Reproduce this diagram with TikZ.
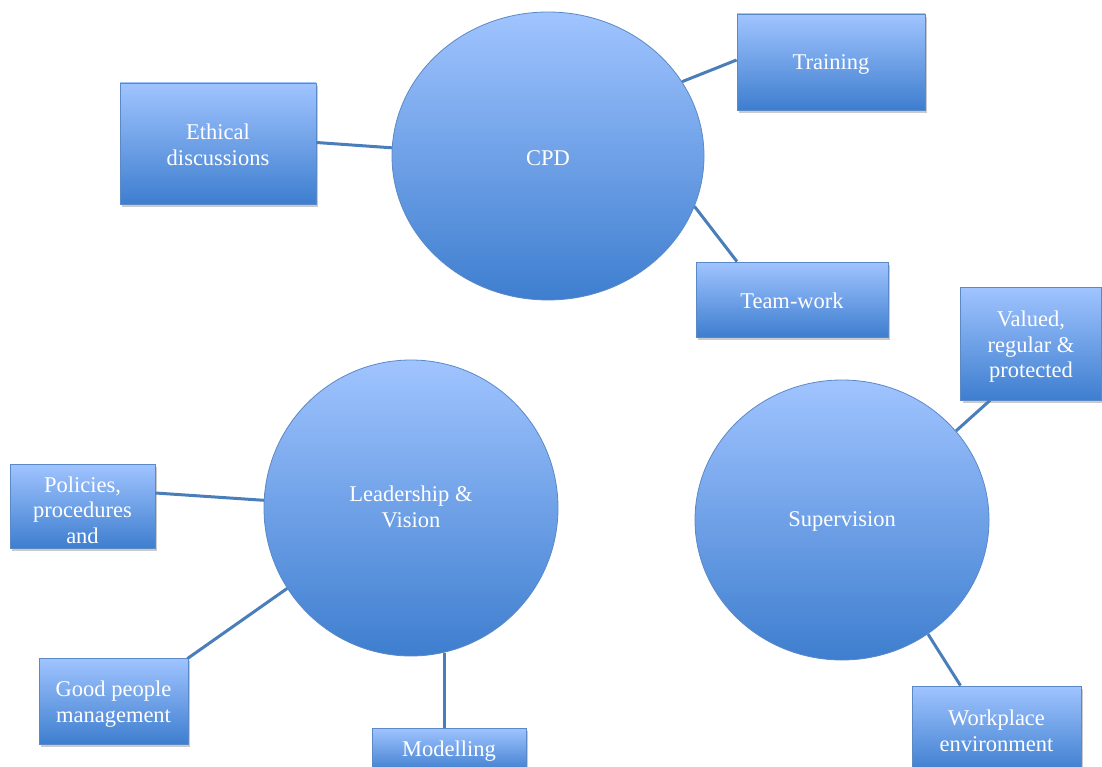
\documentclass[tikz,border=0pt]{standalone}
\usepackage{fontspec}
\setmainfont{Liberation Serif}
\usetikzlibrary{shadows,calc,shapes.geometric}
\definecolor{topblue}{HTML}{A0C4FF}
\definecolor{botblue}{HTML}{3E7ECF}
\definecolor{edgeblue}{HTML}{5B89C6}
\definecolor{linkblue}{HTML}{4A7EBB}
\tikzset{
  box/.style={rectangle, draw=edgeblue, line width=0.8pt, top color=topblue, bottom color=botblue,
    inner sep=0pt,
    drop shadow={shadow xshift=2pt, shadow yshift=-3pt, opacity=.35, fill=black!60}},
  btxt/.style={text=white, align=center, font=\fontsize{22.5}{25.5}\selectfont, inner sep=0pt},
  hub/.style={ellipse, draw=edgeblue, line width=0.8pt, top color=topblue, bottom color=botblue,
    inner sep=0pt},
  hubtext/.style={text=white, align=center, font=\fontsize{22.5}{25.5}\selectfont},
  link/.style={draw=linkblue, line width=3pt}
}
\begin{document}
\begin{tikzpicture}[x=1pt,y=-1pt]
\useasboundingbox (0,0) rectangle (1102,767);
\clip (0,0) rectangle (1102,767);
% hubs
\node[hub, minimum width=312pt, minimum height=288pt] (cpd) at (548,156) {};
\node[hubtext] (cpdt) at (548,158) {CPD};
\node[hub, minimum width=294pt, minimum height=296pt] (lead) at (411,508) {};
\node[hubtext] (leadt) at (411,507) {Leadership \&\\Vision};
\node[hub, minimum width=294pt, minimum height=280pt] (sup) at (842,520) {};
\node[hubtext] (supt) at (842,521) {Supervision};
% boxes
\node[box, minimum width=196pt, minimum height=121pt] (eth) at (218,143.5) {};
\node[btxt] (etht) at (218,145) {Ethical\\discussions};
\node[box, minimum width=188pt, minimum height=96pt] (trn) at (831,62) {};
\node[btxt] (trnt) at (831,64) {Training};
\node[box, minimum width=192pt, minimum height=75pt] (tw) at (792,299.5) {};
\node[btxt] (twt) at (792,301) {Team-work};
\node[box, minimum width=141pt, minimum height=113pt] (val) at (1031,343.5) {};
\node[btxt] (valt) at (1031,347) {Valued,\\regular \&\\protected};
\node[box, minimum width=145pt, minimum height=84pt] (pol) at (82.5,506) {};
\node[btxt] (polt) at (82.5,510) {Policies,\\procedures\\and};
\node[box, minimum width=149pt, minimum height=86pt] (gpm) at (113.5,701) {};
\node[btxt] (gpmt) at (113.5,704) {Good people\\management};
\node[box, minimum width=154pt, minimum height=44pt] (mod) at (449,750) {};
\node[btxt] (modt) at (449,751) {Modelling};
\node[box, minimum width=169pt, minimum height=86pt] (wp) at (996.5,729) {};
\node[btxt] (wpt) at (996.5,731) {Workplace\\environment};
% connectors
\draw[link] ([yshift=1pt]eth.east) -- (cpd.177);
\draw[link] ([yshift=2pt]trn.west) -- (cpd.29);
\draw[link] ([xshift=-55pt]tw.north) -- (cpd.-19);
\draw[link] ([xshift=-41pt]val.south) -- (sup.38);
\draw[link] ([yshift=13pt]pol.east) -- (lead.177);
\draw[link] ([xshift=-1pt,yshift=-1pt]gpm.north east) -- (lead.213);
\draw[link] (lead.-77 |- mod.north) -- (lead.-77);
\draw[link] ([xshift=-36pt]wp.north) -- (sup.-53);
\end{tikzpicture}
\end{document}
